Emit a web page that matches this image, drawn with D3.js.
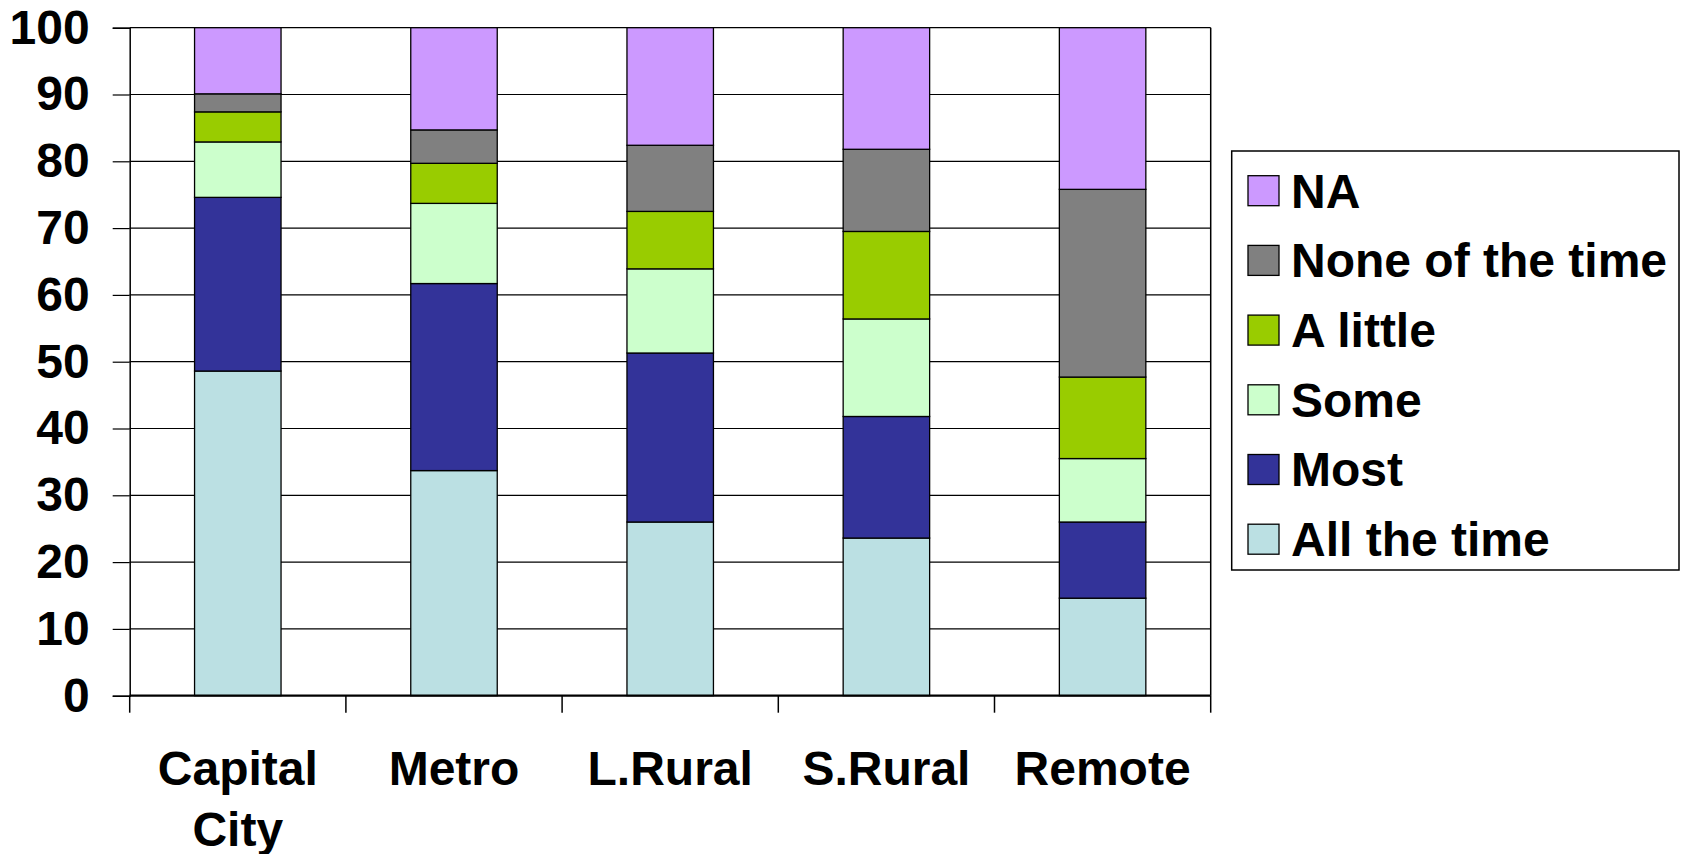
<!DOCTYPE html>
<html>
<head>
<meta charset="utf-8">
<script src="https://cdn.jsdelivr.net/npm/d3@7"></script>
<style>
  html, body { margin: 0; padding: 0; background: #fff; }
  svg { display: block; }
  text { font-family: "Liberation Sans", Arial, sans-serif; font-weight: bold; fill: #000; }
</style>
</head>
<body>
<svg id="chart" width="1682" height="854"></svg>
<script>
// Share of responses by area type (percent), stacked bottom to top
const categories = ["Capital City", "Metro", "L.Rural", "S.Rural", "Remote"];
const seriesNames = ["All the time", "Most", "Some", "A little", "None of the time", "NA"];
const allTheTime     = [48.6, 33.7, 26.0, 23.6, 14.6];
const most           = [26.0, 28.0, 25.3, 18.2, 11.4];
const some           = [ 8.3, 12.0, 12.6, 14.6,  9.5];
const aLittle        = [ 4.5,  6.0,  8.6, 13.1, 12.2];
const noneOfTheTime  = [ 2.7,  5.0,  9.9, 12.3, 28.1];
const na             = [ 9.9, 15.3, 17.6, 18.2, 24.2];
const seriesColors = ["#BBE0E3", "#333399", "#CCFFCC", "#99CC00", "#808080", "#CC99FF"];
const yTicks = [0, 10, 20, 30, 40, 50, 60, 70, 80, 90, 100];

const seriesValues = [allTheTime, most, some, aLittle, noneOfTheTime, na];
const rows = categories.map((c, i) => {
  const r = { category: c };
  seriesNames.forEach((s, k) => { r[s] = seriesValues[k][i]; });
  return r;
});

const svg = d3.select("#chart");
const plot = { left: 129.7, right: 1210.7, top: 27.7, bottom: 695.7 };
const FONT = 48;

const x = d3.scaleBand()
  .domain(categories)
  .range([plot.left, plot.right])
  .paddingInner(0.6)
  .paddingOuter(0.3);

const y = d3.scaleLinear().domain([0, 100]).range([plot.bottom, plot.top]);

const stacked = d3.stack().keys(seriesNames)(rows);
const color = d3.scaleOrdinal().domain(seriesNames).range(seriesColors);

// Horizontal gridlines
svg.append("g")
  .selectAll("line")
  .data(yTicks.filter(t => t > 0))
  .join("line")
  .attr("x1", plot.left).attr("x2", plot.right)
  .attr("y1", d => y(d)).attr("y2", d => y(d))
  .attr("stroke", "#000").attr("stroke-width", 1.2);

// Right border of the plot area
svg.append("line")
  .attr("x1", plot.right).attr("x2", plot.right)
  .attr("y1", plot.top).attr("y2", plot.bottom)
  .attr("stroke", "#000").attr("stroke-width", 1.5);

// Stacked bars
svg.append("g")
  .selectAll("g")
  .data(stacked)
  .join("g")
  .attr("fill", d => color(d.key))
  .selectAll("rect")
  .data(d => d)
  .join("rect")
  .attr("x", d => x(d.data.category))
  .attr("width", x.bandwidth())
  .attr("y", d => y(d[1]))
  .attr("height", d => y(d[0]) - y(d[1]))
  .attr("stroke", "#000")
  .attr("stroke-width", 1.3);

// Y axis
const yAxis = svg.append("g")
  .attr("transform", `translate(${plot.left},0)`)
  .call(d3.axisLeft(y).tickValues(yTicks).tickSize(17).tickPadding(23));
yAxis.select(".domain").attr("stroke", "#000").attr("stroke-width", 1.5);
yAxis.selectAll(".tick line").attr("stroke", "#000").attr("stroke-width", 1.2);
yAxis.selectAll(".tick text")
  .style("font-family", '"Liberation Sans", Arial, sans-serif')
  .style("font-weight", "bold")
  .style("font-size", FONT + "px")
  .attr("fill", "#000");

// X axis baseline and tick marks at category boundaries
svg.append("line")
  .attr("x1", plot.left).attr("x2", plot.right)
  .attr("y1", plot.bottom).attr("y2", plot.bottom)
  .attr("stroke", "#000").attr("stroke-width", 2.2);

const boundaries = categories.map(c => x(c) - (x.step() - x.bandwidth()) / 2)
  .concat([x(categories[categories.length - 1]) + x.bandwidth() + (x.step() - x.bandwidth()) / 2]);
svg.append("g")
  .selectAll("line")
  .data(boundaries)
  .join("line")
  .attr("x1", d => d).attr("x2", d => d)
  .attr("y1", plot.bottom).attr("y2", plot.bottom + 17)
  .attr("stroke", "#000").attr("stroke-width", 1.5);

// Category labels (wrapped on spaces)
svg.append("g")
  .selectAll("text")
  .data(categories)
  .join("text")
  .attr("text-anchor", "middle")
  .style("font-size", FONT + "px")
  .each(function (c) {
    const t = d3.select(this);
    c.split(" ").forEach((word, i) => {
      t.append("tspan")
        .attr("x", x(c) + x.bandwidth() / 2)
        .attr("y", 785 + i * 61.2)
        .text(word);
    });
  });

// Legend
const legend = svg.append("g");
legend.append("rect")
  .attr("x", 1231.7).attr("y", 151)
  .attr("width", 1679 - 1231.7).attr("height", 570 - 151)
  .attr("fill", "#fff").attr("stroke", "#000").attr("stroke-width", 1.5);

const legendOrder = seriesNames.slice().reverse();
const legendItems = legend.selectAll("g.item")
  .data(legendOrder)
  .join("g")
  .attr("class", "item")
  .attr("transform", (d, i) => `translate(1248,${175.7 + i * 69.7})`);
legendItems.append("rect")
  .attr("width", 31).attr("height", 30)
  .attr("fill", d => color(d))
  .attr("stroke", "#000").attr("stroke-width", 1.3);
legendItems.append("text")
  .attr("x", 43).attr("y", 15)
  .attr("dy", "0.35em")
  .style("font-size", FONT + "px")
  .text(d => d);
</script>
</body>
</html>
